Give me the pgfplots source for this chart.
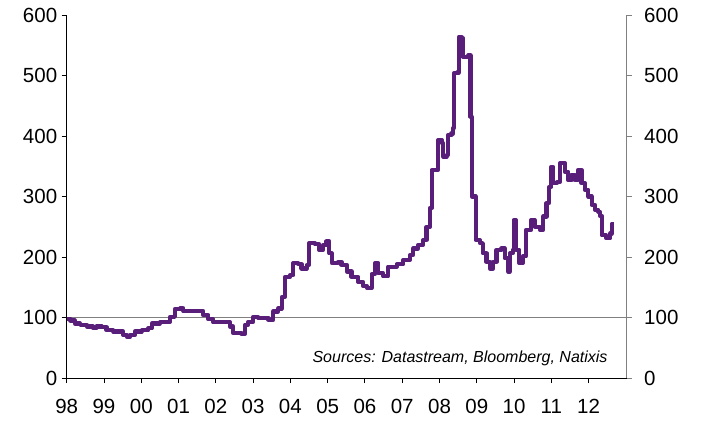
\documentclass[border=0pt]{standalone}
\usepackage{pgfplots}
\pgfplotsset{compat=1.18}
\usepackage{fontspec}
\setmainfont{Liberation Sans}
\definecolor{lineP}{RGB}{88,30,122}
\definecolor{refgray}{RGB}{128,128,128}
\pgfplotstableread{
x y
1998.00 97
1998.10 95
1998.22 90
1998.36 88
1998.54 85
1998.70 83
1998.80 85
1998.94 84
1999.07 79
1999.25 77
1999.43 77
1999.52 71
1999.61 68
1999.70 71
1999.83 77
2000.01 79
2000.19 82
2000.28 90
2000.50 92
2000.68 93
2000.77 101
2000.90 114
2001.04 115
2001.13 111
2001.57 111
2001.66 104
2001.80 97
2001.93 92
2002.29 92
2002.38 85
2002.47 74
2002.69 73
2002.78 88
2002.87 93
2003.00 101
2003.14 99
2003.41 96
2003.54 110
2003.67 115
2003.77 134
2003.85 167
2003.99 170
2004.08 190
2004.21 188
2004.30 181
2004.44 187
2004.50 223
2004.66 221
2004.77 212
2004.88 220
2004.97 226
2005.04 206
2005.11 190
2005.28 192
2005.37 187
2005.51 176
2005.64 167
2005.82 159
2005.95 152
2006.05 149
2006.18 172
2006.27 190
2006.36 173
2006.49 168
2006.62 184
2006.76 184
2006.85 188
2007.03 195
2007.20 203
2007.29 214
2007.43 220
2007.56 228
2007.65 250
2007.74 281
2007.79 344
2007.92 344
2007.96 393
2008.06 388
2008.10 366
2008.19 369
2008.23 402
2008.32 404
2008.37 413
2008.39 504
2008.48 505
2008.52 564
2008.59 562
2008.62 531
2008.77 533
2008.83 432
2008.87 300
2008.95 300
2008.97 228
2009.08 223
2009.16 206
2009.26 192
2009.35 181
2009.44 192
2009.53 212
2009.66 214
2009.75 198
2009.84 176
2009.89 206
2009.96 212
2009.99 261
2010.05 212
2010.14 190
2010.23 201
2010.32 245
2010.46 261
2010.55 250
2010.69 245
2010.78 267
2010.87 289
2010.94 316
2011.00 349
2011.05 322
2011.14 324
2011.23 355
2011.36 341
2011.45 327
2011.54 336
2011.63 327
2011.72 344
2011.81 322
2011.90 311
2011.99 300
2012.08 286
2012.17 278
2012.26 275
2012.30 268
2012.35 236
2012.47 231
2012.58 239
2012.62 255
2012.69 255
}\datatable
\begin{document}
\begin{tikzpicture}
\useasboundingbox (-66.7pt,-43pt) rectangle (634.3pt,378pt);
\begin{axis}[
  at={(0pt,0pt)}, anchor=south west,
  scale only axis, width=560pt, height=363pt,
  xmin=1998, xmax=2013.02, ymin=0, ymax=600,
  axis x line*=bottom, axis y line*=left,
  axis line style={-, black, line width=0.9pt},
  xtick={1998,...,2012},
  xticklabels={98,99,00,01,02,03,04,05,06,07,08,09,10,11,12},
  ytick={0,100,...,600},
  tick style={black, line width=0.9pt},
  major tick length=5pt,
  tick align=outside,
  ticklabel style={font=\fontsize{20.5}{20.5}\selectfont},
  xticklabel style={yshift=-13pt},
  yticklabel style={xshift=-1pt},
  /pgf/number format/assume math mode=true,
  clip=false,
]
\addplot[refgray, line width=1.4pt] coordinates {(1998,100) (2013.02,100)};
\addplot[lineP, line width=4.2pt, line join=round, const plot] table[x=x,y=y] {\datatable};
\node[anchor=east, font=\fontsize{16}{16}\selectfont\itshape] at (rel axis cs:0.972,0.055) {Sources: Datastream, Bloomberg, Natixis};
\end{axis}
\begin{axis}[
  at={(0pt,0pt)}, anchor=south west,
  scale only axis, width=560pt, height=363pt,
  xmin=1998, xmax=2013.02, ymin=0, ymax=600,
  axis x line=none, axis y line*=right,
  axis line style={-, refgray, line width=0.9pt},
  ytick={0,100,...,600},
  tick style={refgray, line width=0.9pt},
  major tick length=5pt,
  tick align=outside,
  ticklabel style={font=\fontsize{20.5}{20.5}\selectfont},
  yticklabel style={xshift=9pt},
  /pgf/number format/assume math mode=true,
]
\addplot[draw=none] coordinates {(1998,0)};
\end{axis}
\end{tikzpicture}
\end{document}
